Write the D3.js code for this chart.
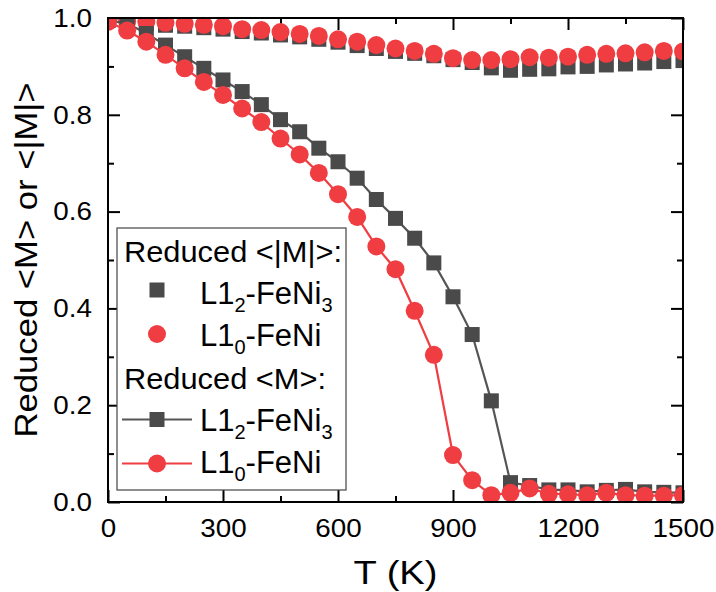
<!DOCTYPE html>
<html>
<head>
<meta charset="utf-8">
<script src="https://cdn.jsdelivr.net/npm/d3@7"></script>
<style>
  html, body { margin: 0; padding: 0; background: #fff; }
  svg { display: block; }
  text { font-family: "Liberation Sans", Arial, sans-serif; fill: #000; }
</style>
</head>
<body>
<svg id="chart" width="716" height="592"></svg>
<script>
// ---------- data ----------
const temperatures = [0, 50, 100, 150, 200, 250, 300, 350, 400, 450, 500, 550, 600, 650, 700, 750,
  800, 850, 900, 950, 1000, 1050, 1100, 1150, 1200, 1250, 1300, 1350, 1400, 1450, 1500];

// Reduced <|M|>
const absM_FeNi3 = [0.995, 0.990, 0.988, 0.985, 0.983, 0.980, 0.977, 0.972, 0.969, 0.965, 0.961, 0.956,
  0.950, 0.943, 0.937, 0.931, 0.927, 0.922, 0.914, 0.908, 0.897, 0.892, 0.894, 0.895, 0.899, 0.900,
  0.903, 0.905, 0.907, 0.910, 0.912];
const absM_FeNi = [0.995, 0.993, 0.992, 0.990, 0.988, 0.986, 0.983, 0.977, 0.975, 0.971, 0.967, 0.963,
  0.956, 0.951, 0.944, 0.937, 0.932, 0.926, 0.917, 0.913, 0.913, 0.915, 0.919, 0.918, 0.920, 0.924,
  0.926, 0.927, 0.929, 0.932, 0.931];

// Reduced <M>
const M_FeNi3 = [0.995, 0.989, 0.968, 0.944, 0.920, 0.896, 0.872, 0.848, 0.821, 0.790, 0.765, 0.731,
  0.703, 0.669, 0.625, 0.586, 0.545, 0.494, 0.424, 0.346, 0.209, 0.040, 0.034, 0.025, 0.025, 0.021,
  0.024, 0.026, 0.021, 0.020, 0.019];
const M_FeNi = [0.992, 0.974, 0.951, 0.924, 0.896, 0.868, 0.841, 0.813, 0.785, 0.751, 0.718, 0.680,
  0.636, 0.589, 0.528, 0.481, 0.395, 0.304, 0.097, 0.045, 0.014, 0.019, 0.028, 0.017, 0.016, 0.014,
  0.019, 0.014, 0.013, 0.013, 0.014];

const xTicks = [0, 300, 600, 900, 1200, 1500];
const xMinorTicks = [150, 450, 750, 1050, 1350];
const yTicks = [0.0, 0.2, 0.4, 0.6, 0.8, 1.0];
const yMinorTicks = [0.1, 0.3, 0.5, 0.7, 0.9];

const xLabel = "T (K)";
const yLabel = "Reduced <M> or <|M|>";

// ---------- layout ----------
const GRAY = "#4a4a4a", GRAY_LINE = "#555555", RED = "#ef3d42";
const L = 108, R = 683, TOP = 18, B = 502;
const svg = d3.select("#chart");
const x = d3.scaleLinear().domain([0, 1500]).range([L, R]);
const y = d3.scaleLinear().domain([0, 1]).range([B, TOP]);

svg.append("defs").append("clipPath").attr("id", "plotclip")
  .append("rect").attr("x", L).attr("y", TOP).attr("width", R - L).attr("height", B - TOP);

// ---------- axes (ticks inward on all four sides) ----------
function styleAxis(g) {
  g.select(".domain").remove();
  g.selectAll(".tick line").attr("stroke", "#000").attr("stroke-width", 2);
}
const fmtY = d3.format(".1f");
svg.append("g").attr("transform", `translate(0,${B})`)
  .call(d3.axisBottom(x).tickValues(xTicks).tickSize(-12).tickPadding(17).tickFormat(d3.format("d")))
  .call(styleAxis)
  .call(g => g.selectAll("text").attr("font-size", 26).attr("dy", "0.71em")
     .attr("transform", "scale(1.07,1)"));
svg.append("g").attr("transform", `translate(0,${B})`)
  .call(d3.axisBottom(x).tickValues(xMinorTicks).tickSize(-6).tickFormat(""))
  .call(styleAxis);
svg.append("g").attr("transform", `translate(0,${TOP})`)
  .call(d3.axisTop(x).tickValues(xTicks).tickSize(-12).tickFormat(""))
  .call(styleAxis);
svg.append("g").attr("transform", `translate(0,${TOP})`)
  .call(d3.axisTop(x).tickValues(xMinorTicks).tickSize(-6).tickFormat(""))
  .call(styleAxis);
svg.append("g").attr("transform", `translate(${L},0)`)
  .call(d3.axisLeft(y).tickValues(yTicks).tickSize(-12).tickPadding(15).tickFormat(fmtY))
  .call(styleAxis)
  .call(g => g.selectAll("text").attr("font-size", 26).attr("transform", "scale(1.07,1)"));
svg.append("g").attr("transform", `translate(${L},0)`)
  .call(d3.axisLeft(y).tickValues(yMinorTicks).tickSize(-6).tickFormat(""))
  .call(styleAxis);
svg.append("g").attr("transform", `translate(${R},0)`)
  .call(d3.axisRight(y).tickValues(yTicks).tickSize(-12).tickFormat(""))
  .call(styleAxis);
svg.append("g").attr("transform", `translate(${R},0)`)
  .call(d3.axisRight(y).tickValues(yMinorTicks).tickSize(-6).tickFormat(""))
  .call(styleAxis);

// ---------- data marks ----------
const plot = svg.append("g").attr("clip-path", "url(#plotclip)");
const SQ = 15, CR = 9;

function squares(vals) {
  plot.append("g").selectAll("rect").data(temperatures).join("rect")
    .attr("x", (d) => x(d) - SQ / 2).attr("y", (d, i) => y(vals[i]) - SQ / 2)
    .attr("width", SQ).attr("height", SQ).attr("fill", GRAY);
}
function circles(vals) {
  plot.append("g").selectAll("circle").data(temperatures).join("circle")
    .attr("cx", (d) => x(d)).attr("cy", (d, i) => y(vals[i]))
    .attr("r", CR).attr("fill", RED);
}
function line(vals, color) {
  const gen = d3.line().x((d) => x(d)).y((d, i) => y(vals[i]));
  plot.append("path").datum(temperatures).attr("d", gen)
    .attr("fill", "none").attr("stroke", color).attr("stroke-width", 2.2);
}

squares(absM_FeNi3);
circles(absM_FeNi);
line(M_FeNi3, GRAY_LINE);
squares(M_FeNi3);
line(M_FeNi, RED);
circles(M_FeNi);

// frame
svg.append("rect").attr("x", L).attr("y", TOP).attr("width", R - L).attr("height", B - TOP)
  .attr("fill", "none").attr("stroke", "#000").attr("stroke-width", 2);

// ---------- axis titles ----------
svg.append("text").attr("x", (L + R) / 2).attr("y", 584).attr("text-anchor", "middle")
  .attr("font-size", 33).attr("textLength", 84).attr("lengthAdjust", "spacingAndGlyphs").text(xLabel);
svg.append("text").attr("transform", `translate(37,${(TOP + B) / 2}) rotate(-90)`)
  .attr("text-anchor", "middle").attr("font-size", 32)
  .attr("textLength", 355).attr("lengthAdjust", "spacingAndGlyphs").text(yLabel);

// ---------- legend ----------
const lg = svg.append("g");
lg.append("rect").attr("x", 117).attr("y", 228).attr("width", 229).attr("height", 262)
  .attr("fill", "#fff").attr("stroke", "#444").attr("stroke-width", 1.2);

const FS = 30;
function header(txt, yb, len) {
  lg.append("text").attr("x", 124).attr("y", yb).attr("font-size", FS)
    .attr("textLength", len).attr("lengthAdjust", "spacingAndGlyphs").text(txt);
}
function label(main, sub1, mid, sub2, yb) {
  const t = lg.append("text").attr("x", 200).attr("y", yb).attr("font-size", 31);
  t.append("tspan").text(main);
  t.append("tspan").attr("font-size", 20).attr("dy", 8).text(sub1);
  t.append("tspan").attr("dy", -8).text(mid);
  if (sub2) t.append("tspan").attr("font-size", 20).attr("dy", 8).text(sub2);
}
const rows = [262, 304, 346, 388.5, 430.5, 472.5];
header("Reduced <|M|>:", rows[0], 218);
lg.append("rect").attr("x", 157 - SQ / 2).attr("y", rows[1] - 14 - SQ / 2).attr("width", SQ).attr("height", SQ).attr("fill", GRAY);
label("L1", "2", "-FeNi", "3", rows[1]);
lg.append("circle").attr("cx", 157).attr("cy", rows[2] - 12).attr("r", CR).attr("fill", RED);
label("L1", "0", "-FeNi", null, rows[2]);
header("Reduced <M>:", rows[3], 202);
lg.append("line").attr("x1", 122).attr("x2", 192).attr("y1", rows[4] - 11).attr("y2", rows[4] - 11)
  .attr("stroke", GRAY_LINE).attr("stroke-width", 2.2);
lg.append("rect").attr("x", 157 - SQ / 2).attr("y", rows[4] - 11 - SQ / 2).attr("width", SQ).attr("height", SQ).attr("fill", GRAY);
label("L1", "2", "-FeNi", "3", rows[4]);
lg.append("line").attr("x1", 122).attr("x2", 192).attr("y1", rows[5] - 9).attr("y2", rows[5] - 9)
  .attr("stroke", RED).attr("stroke-width", 2.2);
lg.append("circle").attr("cx", 157).attr("cy", rows[5] - 9).attr("r", CR).attr("fill", RED);
label("L1", "0", "-FeNi", null, rows[5]);
</script>
</body>
</html>
